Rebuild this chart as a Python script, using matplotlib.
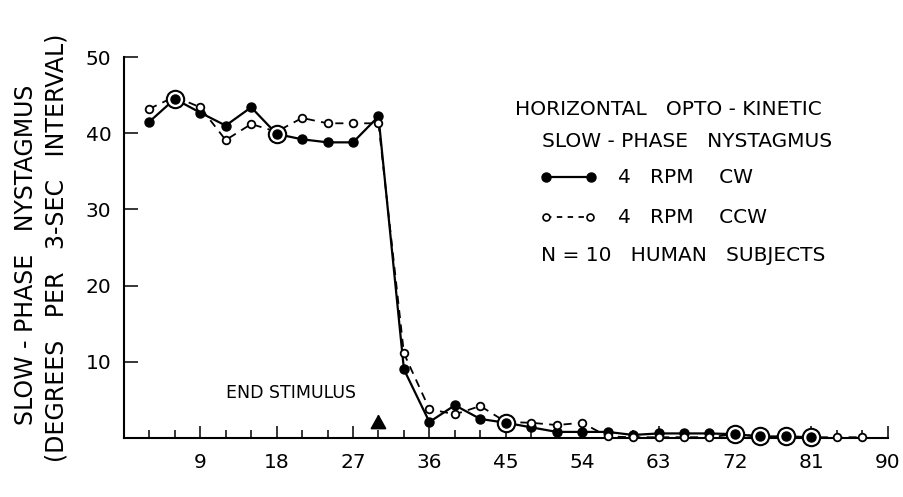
import matplotlib
matplotlib.use("Agg")
import matplotlib.pyplot as plt
from matplotlib.ticker import MultipleLocator

# time (sec) at end of each 3-sec interval
time_cw = [3, 6, 9, 12, 15, 18, 21, 24, 27, 30, 33, 36, 39, 42, 45, 48, 51, 54,
           57, 60, 63, 66, 69, 72, 75, 78, 81]
spv_cw = [41.5, 44.5, 42.7, 41.0, 43.4, 39.9, 39.2, 38.8, 38.8, 42.2, 9.0, 2.1,
          4.3, 2.5, 2.0, 1.4, 0.8, 0.8, 0.8, 0.4, 0.6, 0.6, 0.6, 0.5, 0.2, 0.2, 0.1]

time_ccw = [3, 6, 9, 12, 15, 18, 21, 24, 27, 30, 33, 36, 39, 42, 45, 48, 51, 54,
            57, 60, 63, 66, 69, 72, 75, 78, 81, 84, 87]
spv_ccw = [43.2, 44.8, 43.4, 39.1, 41.2, 40.2, 42.0, 41.3, 41.3, 41.3, 11.1, 3.8,
           3.1, 4.2, 2.1, 2.0, 1.7, 2.0, 0.2, 0.1, 0.1, 0.1, 0.1, 0.5, 0.2, 0.2,
           0.1, 0.1, 0.1]

# intervals where both curves coincide (drawn as ringed dots)
coincident = [6, 18, 45, 72, 75, 78, 81]
stim_end = 30

xticks = [9, 18, 27, 36, 45, 54, 63, 72, 81, 90]
yticks = [10, 20, 30, 40, 50]

fig = plt.figure(figsize=(9.04, 4.97), dpi=100)
ax = fig.add_axes([0.137, 0.1187, 0.845, 0.7666])

ax.plot(time_cw, spv_cw, color="black", lw=1.6, marker="o", ms=6.5,
        mfc="black", mec="black", zorder=3, clip_on=False)
ax.plot(time_ccw, spv_ccw, color="black", lw=1.3, ls=(0, (4.5, 3.5)), marker="o",
        ms=5.5, mfc="white", mec="black", mew=1.3, zorder=4, clip_on=False)

cy = [spv_cw[time_cw.index(t)] for t in coincident]
ax.plot(coincident, cy, ls="none", marker="o", ms=12.5, mfc="white",
        mec="black", mew=1.5, zorder=5, clip_on=False)
ax.plot(coincident, cy, ls="none", marker="o", ms=6.5, mfc="black",
        mec="black", zorder=6, clip_on=False)

ax.set_xlim(0, 90)
ax.set_ylim(0, 50)
ax.spines["top"].set_visible(False)
ax.spines["right"].set_visible(False)
for s in ("left", "bottom"):
    ax.spines[s].set_linewidth(1.5)

ax.set_xticks(xticks)
ax.set_yticks(yticks)
ax.xaxis.set_minor_locator(MultipleLocator(3))
ax.tick_params(axis="x", which="major", direction="in", length=9, width=1.1,
               labelsize=14.5, pad=11)
ax.tick_params(axis="x", which="minor", direction="in", length=6, width=1.1)
ax.tick_params(axis="y", which="major", direction="in", length=10, width=1.1,
               labelsize=14.5, pad=9)

# y label, two lines
fig.text(0.029, 0.487, "SLOW - PHASE   NYSTAGMUS", rotation=90, fontsize=17,
         ha="center", va="center")
fig.text(0.062, 0.501, "(DEGREES   PER   3-SEC   INTERVAL)", rotation=90,
         fontsize=17, ha="center", va="center")

ax.annotate("", xy=(stim_end, 3.5), xytext=(stim_end, 1.6),
            arrowprops=dict(arrowstyle="-|>,head_length=0.45,head_width=0.25",
                            mutation_scale=20, color="black", lw=1.3))
ax.text(stim_end - 2.7, 5.9, "END STIMULUS", fontsize=12.5, ha="right", va="center")

# legend block
tf = dict(fontsize=14.5, va="center", transform=ax.transAxes)
ax.text(0.512, 0.861, "HORIZONTAL   OPTO - KINETIC", **tf)
ax.text(0.548, 0.777, "SLOW - PHASE   NYSTAGMUS", **tf)
ax.plot([0.552, 0.612], [0.685, 0.685], color="black", lw=1.6, marker="o",
        ms=6.5, transform=ax.transAxes, clip_on=False)
ax.text(0.647, 0.685, "4   RPM    CW", **tf)
ax.plot([0.552, 0.610], [0.580, 0.580], color="black", lw=1.3, ls=(0, (3, 3)),
        marker="o", ms=5, mfc="white", mew=1.2, transform=ax.transAxes, clip_on=False)
ax.text(0.647, 0.580, "4   RPM    CCW", **tf)
ax.text(0.546, 0.478, "N = 10   HUMAN   SUBJECTS", **tf)

fig.savefig("out.png", dpi=100)
